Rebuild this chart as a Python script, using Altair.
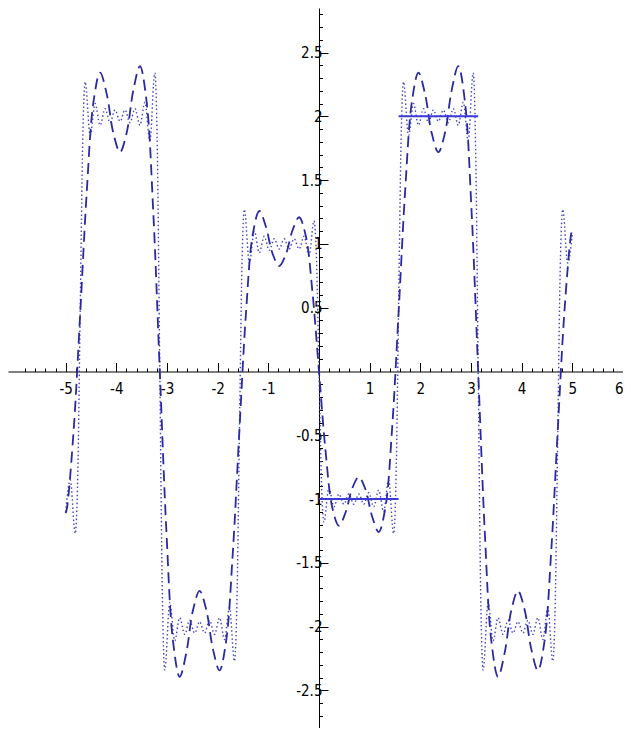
import altair as alt
import pandas as pd
import numpy as np

# ---- data ----
# dashed curve (low-order Fourier partial sum)
dash_x = [-5.0, -4.974, -4.843, -4.712, -4.581, -4.451, -4.320, -4.189, -4.058, -3.927,
          -3.796, -3.665, -3.534, -3.403, -3.272, -3.142,
          -3.011, -2.880, -2.749, -2.618, -2.487, -2.356, -2.225, -2.094, -1.963, -1.833,
          -1.702, -1.571, -1.440, -1.309, -1.178, -1.047, -0.916, -0.785, -0.654, -0.524,
          -0.393, -0.262, -0.131, 0.0,
          0.131, 0.262, 0.393, 0.524, 0.654, 0.785, 0.916, 1.047, 1.178, 1.309,
          1.440, 1.571, 1.702, 1.833, 1.963, 2.094, 2.225, 2.356, 2.487, 2.618,
          2.749, 2.880, 3.011, 3.142,
          3.272, 3.403, 3.534, 3.665, 3.796, 3.927, 4.058, 4.189, 4.320, 4.451,
          4.581, 4.712, 4.843, 4.974, 5.0]
dash_y = [-1.11, -1.070, -0.464, 0.461, 1.425, 2.113, 2.343, 2.174, 1.867, 1.719,
          1.871, 2.203, 2.393, 2.117, 1.258, 0.0,
          -1.258, -2.117, -2.393, -2.203, -1.871, -1.719, -1.867, -2.174, -2.343, -2.113,
          -1.425, -0.461, 0.464, 1.070, 1.258, 1.134, 0.923, 0.827, 0.918, 1.105,
          1.209, 1.066, 0.630, 0.0,
          -0.630, -1.066, -1.209, -1.105, -0.918, -0.827, -0.923, -1.134, -1.258, -1.070,
          -0.464, 0.461, 1.425, 2.113, 2.343, 2.174, 1.867, 1.719, 1.871, 2.203,
          2.393, 2.117, 1.258, 0.0,
          -1.258, -2.117, -2.393, -2.203, -1.871, -1.719, -1.867, -2.174, -2.343, -2.113,
          -1.425, -0.461, 0.464, 1.070, 1.11]

# dotted curve (high-order partial sum)
dot_x = [-5.0, -4.909, -4.811,
         -4.761, -4.712, -4.663,
         -4.614, -4.516, -4.418, -4.320, -4.222, -4.123, -4.025, -3.927, -3.829, -3.731,
         -3.632, -3.534, -3.436, -3.338, -3.240,
         -3.191, -3.142, -3.092,
         -3.043, -2.945, -2.847, -2.749, -2.651, -2.553, -2.454, -2.356, -2.258, -2.160,
         -2.062, -1.963, -1.865, -1.767, -1.669,
         -1.620, -1.571, -1.522,
         -1.473, -1.374, -1.276, -1.178, -1.080, -0.982, -0.884, -0.785, -0.687, -0.589,
         -0.491, -0.393, -0.295, -0.196, -0.098,
         -0.049, 0.0, 0.049,
         0.098, 0.196, 0.295, 0.393, 0.491, 0.589, 0.687, 0.785, 0.884, 0.982,
         1.080, 1.178, 1.276, 1.374, 1.473,
         1.522, 1.571, 1.620,
         1.669, 1.767, 1.865, 1.963, 2.062, 2.160, 2.258, 2.356, 2.454, 2.553,
         2.651, 2.749, 2.847, 2.945, 3.043,
         3.092, 3.142, 3.191,
         3.240, 3.338, 3.436, 3.534, 3.632, 3.731, 3.829, 3.927, 4.025, 4.123,
         4.222, 4.320, 4.418, 4.516, 4.614,
         4.663, 4.712, 4.761,
         4.811, 4.909, 5.0]
dot_y = [-1.10, -0.85, -1.27,
         -0.81, 0.5, 1.81,
         2.27, 1.85, 2.10, 1.93, 2.06, 1.95, 2.05, 1.96, 2.05, 1.95,
         2.06, 1.93, 2.11, 1.81, 2.34,
         1.74, 0.0, -1.74,
         -2.34, -1.81, -2.11, -1.93, -2.06, -1.95, -2.05, -1.96, -2.05, -1.95,
         -2.06, -1.93, -2.10, -1.85, -2.27,
         -1.81, -0.5, 0.81,
         1.27, 0.85, 1.10, 0.93, 1.06, 0.95, 1.04, 0.96, 1.04, 0.96,
         1.04, 0.96, 1.06, 0.91, 1.18,
         0.87, 0.0, -0.87,
         -1.18, -0.91, -1.06, -0.96, -1.04, -0.96, -1.04, -0.96, -1.04, -0.95,
         -1.06, -0.93, -1.10, -0.85, -1.27,
         -0.81, 0.5, 1.81,
         2.27, 1.85, 2.10, 1.93, 2.06, 1.95, 2.05, 1.96, 2.05, 1.95,
         2.06, 1.93, 2.11, 1.81, 2.34,
         1.74, 0.0, -1.74,
         -2.34, -1.81, -2.11, -1.93, -2.06, -1.95, -2.05, -1.96, -2.05, -1.95,
         -2.06, -1.93, -2.10, -1.85, -2.27,
         -1.81, -0.5, 0.81,
         1.27, 0.85, 1.08]

# solid curve (the function itself on (0, pi))
solid_x = [0.0, 1.571, 1.571, 3.142]
solid_y = [-1.0, -1.0, 2.0, 2.0]
solid_seg = ["a", "a", "b", "b"]

# tick labels
x_major = [-5, -4, -3, -2, -1, 1, 2, 3, 4, 5, 6]
y_major = [-2.5, -2, -1.5, -1, -0.5, 0.5, 1, 1.5, 2, 2.5]

# ---- layout ----
W, H = 615, 720
XMIN, XMAX = -6.138, 6.0
YMIN, YMAX = -2.794, 2.849
x0px = (0 - XMIN) / (XMAX - XMIN) * W
y0px = (YMAX - 0) / (YMAX - YMIN) * H

x_minor = [round(float(v), 1) for v in np.arange(-6.0, 6.01, 0.2)
           if abs(v) > 1e-9 and abs(v - round(v)) > 1e-6]
y_minor = [round(float(v), 1) for v in np.arange(-2.7, 2.81, 0.1)
           if abs(v) > 1e-9 and abs(v * 2 - round(v * 2)) > 1e-6]

FONT = "DejaVu Sans Condensed, Liberation Sans Narrow, DejaVu Sans"
MAJ, MIN = 9, 3.5

xscale = alt.Scale(domain=[XMIN, XMAX], nice=False, zero=False)
yscale = alt.Scale(domain=[YMIN, YMAX], nice=False, zero=False)

common = dict(title="", grid=False, domainColor="black", domainWidth=1,
              tickColor="black", tickWidth=1)

x_axis_major = alt.Axis(
    orient="top", offset=-y0px, values=x_major, tickSize=MAJ,
    labelExpr="datum.value + ''",
    labelBaseline="top", labelPadding=-(MAJ + 10),
    labelFont=FONT, labelFontSize=15, labelColor="black",
    labelOverlap=False, labelFlush=True, **common,
)
y_axis_major = alt.Axis(
    orient="right", offset=-(W - x0px), values=y_major, tickSize=MAJ,
    labelExpr="datum.value + ''",
    labelBaseline="middle", labelAlign="right", labelPadding=-6,
    labelFont=FONT, labelFontSize=15, labelColor="black",
    labelOverlap=False, labelFlush=False, **common,
)
x_axis_minor = alt.Axis(
    orient="top", offset=-y0px, values=x_minor, tickSize=MIN,
    labels=False, domain=False, grid=False, title="", tickColor="black", tickWidth=1,
)
y_axis_minor = alt.Axis(
    orient="right", offset=-(W - x0px), values=y_minor, tickSize=MIN,
    labels=False, domain=False, grid=False, title="", tickColor="black", tickWidth=1,
)

dot_df = pd.DataFrame({"x": dot_x, "y": dot_y})
dash_df = pd.DataFrame({"x": dash_x, "y": dash_y})
solid_df = pd.DataFrame({"x": solid_x, "y": solid_y, "seg": solid_seg})

dotted = alt.Chart(dot_df).mark_line(
    color="#4646c4", strokeWidth=1.4, strokeDash=[1.5, 2.5], interpolate="monotone"
).encode(
    x=alt.X("x:Q", scale=xscale, axis=x_axis_major),
    y=alt.Y("y:Q", scale=yscale, axis=y_axis_major),
)

dashed = alt.Chart(dash_df).mark_line(
    color="#2a2aa0", strokeWidth=1.8, strokeDash=[11, 6], interpolate="catmull-rom"
).encode(
    x=alt.X("x:Q", scale=xscale, axis=x_axis_minor),
    y=alt.Y("y:Q", scale=yscale, axis=y_axis_minor),
)

solid = alt.Chart(solid_df).mark_line(
    color="#3a3ad8", strokeWidth=2
).encode(
    x=alt.X("x:Q", scale=xscale, axis=None),
    y=alt.Y("y:Q", scale=yscale, axis=None),
    detail="seg:N",
)

chart = alt.layer(dotted, dashed, solid).resolve_axis(
    x="independent", y="independent"
).properties(
    width=W, height=H,
    autosize=alt.AutoSizeParams(type="none"),
    padding=0,
    view=alt.ViewBackground(stroke="transparent", strokeWidth=0),
).configure_view(strokeWidth=0, stroke="transparent").configure(background="white")

chart.save("out.html", embed_options={"renderer": "svg", "actions": False})
